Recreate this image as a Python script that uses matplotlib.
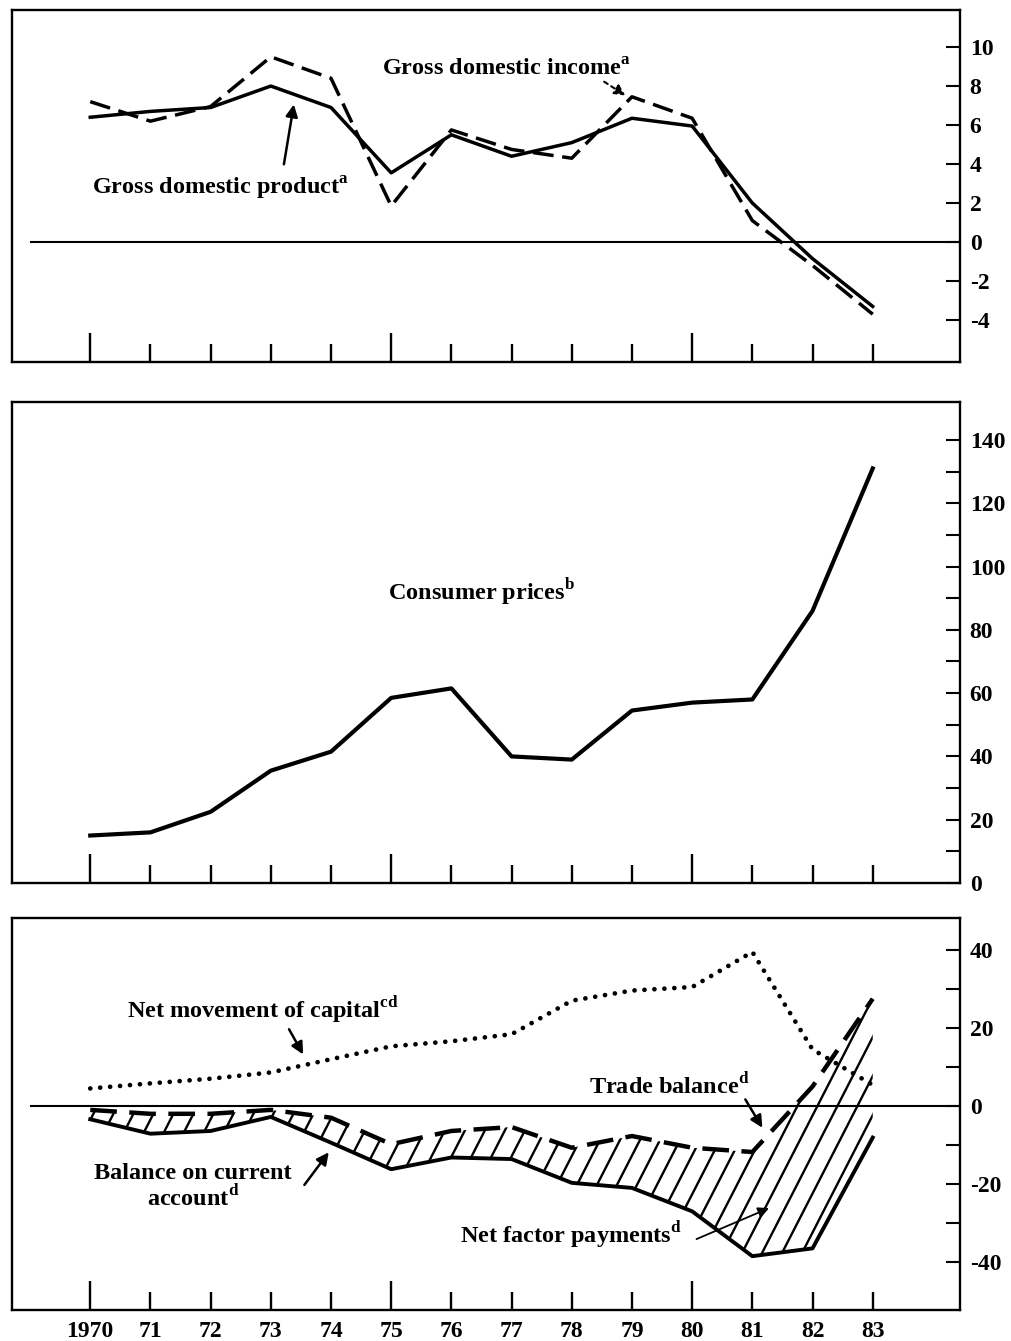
import numpy as np
import matplotlib
matplotlib.use('Agg')
import matplotlib.pyplot as plt
from matplotlib.collections import LineCollection

plt.rcParams['font.family'] = ['Liberation Serif', 'DejaVu Serif']
plt.rcParams['font.weight'] = 'bold'
plt.rcParams['mathtext.fontset'] = 'custom'
plt.rcParams['mathtext.rm'] = 'Liberation Serif:bold'
plt.rcParams['axes.unicode_minus'] = False

# ---- data ----
years = np.arange(1970, 1984)
year_labels = ['1970', '71', '72', '73', '74', '75', '76', '77', '78', '79', '80', '81', '82', '83']

gdp = [6.4, 6.7, 6.9, 8.0, 6.9, 3.55, 5.5, 4.4, 5.1, 6.35, 5.95, 2.0, -0.85, -3.3]
gdi = [7.2, 6.2, 6.95, 9.5, 8.4, 1.85, 5.75, 4.75, 4.3, 7.45, 6.35, 1.1, -1.2, -3.7]

cpi = [15, 16, 22.5, 35.5, 41.5, 58.5, 61.5, 40, 39, 54.5, 57, 58, 86, 131]

capital = [4.5, 5.8, 7.0, 8.6, 12.0, 15.3, 16.6, 18.4, 27.0, 29.6, 30.5, 39.5, 14.5, 5.4]
trade = [-1.0, -2.0, -2.0, -1.0, -3.0, -9.8, -6.4, -5.4, -10.7, -7.7, -10.7, -11.8, 5.0, 27.5]
current = [-3.4, -7.1, -6.4, -2.8, -9.4, -16.2, -13.2, -13.6, -19.7, -21.0, -27.0, -38.5, -36.5, -8.1]

major_years = [1970, 1975, 1980]

fig = plt.figure(figsize=(10.12, 13.41), dpi=100)
L, R = 12 / 1012, 960 / 1012
ax1 = fig.add_axes([L, 1 - 362 / 1341, R - L, 352 / 1341])
ax2 = fig.add_axes([L, 1 - 883 / 1341, R - L, 481 / 1341])
ax3 = fig.add_axes([L, 1 - 1310 / 1341, R - L, 392 / 1341])

XL = (1968.7, 1984.45)
FS = 17.5


def style_axes(ax, show_labels):
    for sp in ax.spines.values():
        sp.set_linewidth(1.7)
    ax.set_xlim(*XL)
    ax.set_xticks(years)
    ax.xaxis.set_ticks_position('bottom')
    ax.tick_params(axis='x', direction='in', width=1.7, length=13, pad=8,
                   labelsize=17)
    for yr, t in zip(years, ax.xaxis.get_major_ticks()):
        if yr in major_years:
            t.tick1line.set_markersize(21)
    if show_labels:
        ax.set_xticklabels(year_labels)
    else:
        ax.set_xticklabels([])
    ax.yaxis.tick_right()
    ax.tick_params(axis='y', which='both', direction='in', width=1.5,
                   length=10, pad=7, labelsize=17)


# ---- top panel ----
style_axes(ax1, False)
ax1.set_ylim(-6.15, 11.9)
ax1.set_yticks(np.arange(-4, 11, 2))
ax1.axhline(0, xmin=0.02, color='black', lw=1.5)
ax1.plot(years, gdi, color='black', lw=2.5, dashes=(6, 2.5))
ax1.plot(years, gdp, color='black', lw=2.5)
ax1.text(1976.92, 8.85, r'Gross domestic income$^{\rm a}$', ha='center', va='center', fontsize=FS)
ax1.text(1972.17, 2.75, r'Gross domestic product$^{\rm a}$', ha='center', va='center', fontsize=FS)
ax1.annotate('', xy=(1973.39, 7.2), xytext=(1973.21, 3.85),
             arrowprops=dict(arrowstyle='-|>', color='black', lw=1.8, mutation_scale=18))
ax1.annotate('', xy=(1978.93, 7.44), xytext=(1978.5, 8.3),
             arrowprops=dict(arrowstyle='-|>', color='black', lw=1.5, ls=(0, (2, 2)), mutation_scale=16))

# ---- middle panel ----
style_axes(ax2, False)
ax2.set_ylim(0, 152)
ax2.set_yticks(np.arange(0, 141, 20))
ax2.set_yticks(np.arange(10, 141, 10), minor=True)
ax2.plot(years, cpi, color='black', lw=3)
ax2.text(1976.5, 91.9, r'Consumer prices$^{\rm b}$', ha='center', va='center', fontsize=FS)

# ---- bottom panel ----
style_axes(ax3, True)
ax3.set_ylim(-52.3, 48.2)
ax3.set_yticks(np.arange(-40, 41, 20))
ax3.set_yticks(np.arange(-30, 31, 20), minor=True)
ax3.axhline(0, xmin=0.02, color='black', lw=1.5)

# diagonal hatching between trade balance and current account
band = ax3.fill_between(years, trade, current, facecolor='none', edgecolor='none')
clip = band.get_paths()[0]
step = 20 / 948
run = (392 / 1.95) / 948
starts = np.arange(-0.4, 1.05, step)
segs = [[(x0, 0), (x0 + run, 1)] for x0 in starts]
hatch = LineCollection(segs, colors='black', linewidths=1.7, transform=ax3.transAxes)
hatch.set_clip_path(clip, ax3.transData)
ax3.add_collection(hatch)

ax3.plot(years, capital, color='black', lw=3.4, linestyle=(0, (0.01, 2.1)),
         dash_capstyle='round')
ax3.plot(years, trade, color='black', lw=3.2, dashes=(6, 2.8))
ax3.plot(years, current, color='black', lw=2.8)

ax3.text(1972.87, 24.6, r'Net movement of capital$^{\rm cd}$', ha='center', va='center', fontsize=FS)
ax3.text(1979.62, 5.1, r'Trade balance$^{\rm d}$', ha='center', va='center', fontsize=FS)
ax3.text(1971.71, -20.8, 'Balance on current\n' + r'account$^{\rm d}$', ha='center', va='center',
         fontsize=FS, linespacing=1.05)
ax3.text(1977.99, -33.1, r'Net factor payments$^{\rm d}$', ha='center', va='center', fontsize=FS)

arr = dict(arrowstyle='-|>', color='black', lw=1.8, mutation_scale=18)
ax3.annotate('', xy=(1973.56, 12.6), xytext=(1973.28, 20.3), arrowprops=arr)
ax3.annotate('', xy=(1981.19, -6.2), xytext=(1980.86, 2.3), arrowprops=arr)
ax3.annotate('', xy=(1973.99, -11.3), xytext=(1973.53, -20.8), arrowprops=arr)
ax3.annotate('', xy=(1981.32, -25.9), xytext=(1980.03, -34.4),
             arrowprops=dict(arrowstyle='-|>', color='black', lw=1.3, mutation_scale=16))

fig.savefig('out.png', dpi=100)
